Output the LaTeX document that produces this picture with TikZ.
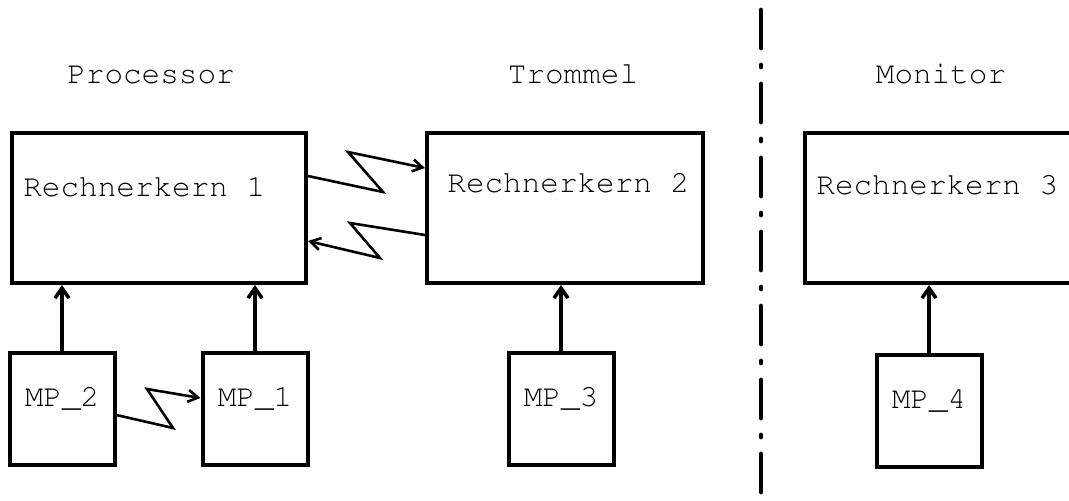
\documentclass[tikz,border=0pt]{standalone}
\usepackage[T1]{fontenc}
\usepackage{courier}
\usetikzlibrary{arrows.meta,positioning,calc}

\begin{document}
\begin{tikzpicture}[x=0.5pt, y=-0.5pt,
  rkbox/.style={draw, line width=2pt, minimum height=75pt, inner sep=0pt},
  mpbox/.style={draw, line width=2pt, minimum width=52.5pt, minimum height=56pt, inner sep=0pt},
  txt/.style={font=\fontsize{15.5pt}{18pt}\selectfont\ttfamily, inner sep=0pt},
  feed/.style={line width=1.8pt, -{Straight Barb[length=5pt,width=7pt]}},
  zig/.style={line width=1.3pt, -{Straight Barb[length=5pt,width=6pt]}},
  sep/.style={line width=2.4pt, line cap=round, dash pattern=on 19pt off 8.5pt on 1pt off 8.5pt}]
  \useasboundingbox (0,0) rectangle (1069,500);
  \clip (0,0) rectangle (1069,500);

  % headings
  \node[txt] (hproc) at (151,75) {Processor};
  \node[txt] (htrom) at (573,74) {Trommel};
  \node[txt] (hmon)  at (941,74) {Monitor};

  % Rechnerkerne
  \node[rkbox, minimum width=147pt] (rk1) at (159,208) {};
  \node[rkbox, minimum width=138pt] (rk2) at (565,208) {};
  \node[rkbox, minimum width=140pt] (rk3) at (945,208) {};
  \node[txt, anchor=west] (rk1txt) at ($(rk1.north west)+(13,56)$) {Rechnerkern 1};
  \node[txt, anchor=west] (rk2txt) at ($(rk2.north west)+(22,52)$) {Rechnerkern 2};
  \node[txt, anchor=west] (rk3txt) at ($(rk3.north west)+(13,54)$) {Rechnerkern 3};

  % MP
  \node[mpbox] (mp2) at (62,409) {};
  \node[mpbox] (mp1) at (255,409) {};
  \node[mpbox] (mp3) at (561,409) {};
  \node[mpbox] (mp4) at (929,411) {};
  \foreach \n in {1,2,3,4}
    \node[txt] (mp\n txt) at ([yshift=5pt]mp\n.center) {MP\_\n};

  \foreach \n/\r in {2/rk1,1/rk1,3/rk2,4/rk3}
    \draw[feed] (mp\n.north) -- (mp\n.north |- \r.south);

  % zigzag links
  \draw[zig] ($(rk1.north east)+(0,45)$) -- (383,192) -- (348,152)
    -- ($(rk2.north west)+(0,37)$);
  \draw[zig] ($(rk2.north west)+(0,104)$) -- (350,223) -- (380,258)
    -- ($(rk1.north east)+(0,110)$);
  \draw[zig] ($(mp2.north east)+(0,64)$) -- (173,428) -- (147,389)
    -- ($(mp1.north west)+(0,47)$);

  % separator
  \coordinate (septop) at (761,10);
  \coordinate (sepbot) at (761,497);
  \draw[sep] (septop) -- (sepbot);
\end{tikzpicture}
\end{document}
